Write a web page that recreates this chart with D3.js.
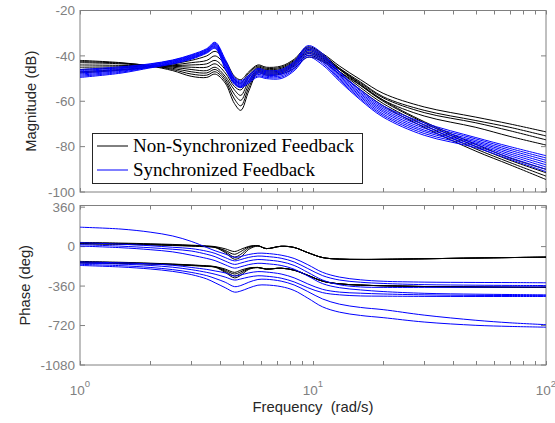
<!DOCTYPE html>
<html>
<head>
<meta charset="utf-8">
<script src="https://cdn.jsdelivr.net/npm/d3@7"></script>
<style>
  body { margin: 0; background: #fff; }
  svg { display: block; }
</style>
</head>
<body>
<div id="chart"></div>
<script>
const freq = [1, 1.5, 2, 2.5, 3, 3.5, 3.8, 4.2, 4.6, 4.9, 5.3, 5.8, 6.3, 7.3, 8.3, 9.5, 11, 13, 16, 20, 30, 50, 70, 100];

// Magnitude (dB), non-synchronized feedback (black)
const magNonSync = [
  [-47.5, -46.3, -45.0, -43.5, -42.0, -40.0, -38.0, -42.0, -49.0, -50.5, -47.0, -44.0, -45.0, -44.5, -41.5, -36.0, -39.0, -44.5, -50.5, -56.5, -62.5, -67.0, -70.0, -73.5],
  [-47.0, -46.0, -45.0, -44.0, -43.0, -42.0, -40.0, -44.0, -50.5, -52.0, -47.5, -44.5, -45.5, -45.0, -42.0, -36.6, -39.5, -45.5, -52.5, -59.5, -69.0, -79.0, -85.0, -90.0],
  [-46.0, -45.3, -44.7, -44.3, -44.0, -43.5, -42.0, -46.0, -52.0, -53.8, -48.5, -45.0, -46.0, -45.5, -42.5, -37.2, -40.0, -45.5, -51.5, -58.0, -64.0, -68.5, -71.5, -75.3],
  [-45.0, -44.8, -44.6, -44.6, -45.0, -45.0, -43.5, -47.5, -53.5, -55.0, -49.5, -45.5, -46.5, -46.0, -43.0, -37.8, -40.5, -46.0, -53.0, -60.0, -69.5, -80.0, -86.0, -91.5],
  [-44.0, -44.2, -44.5, -45.0, -46.0, -46.5, -45.0, -49.0, -55.0, -57.4, -51.0, -46.0, -47.0, -46.5, -43.5, -38.4, -41.0, -46.0, -52.0, -58.5, -65.0, -69.5, -73.0, -77.0],
  [-43.0, -43.5, -44.5, -45.5, -47.0, -47.5, -46.0, -50.0, -57.0, -59.6, -52.5, -46.5, -47.5, -47.0, -44.0, -39.0, -41.5, -47.0, -54.0, -61.0, -70.5, -81.0, -87.0, -93.0],
  [-42.5, -43.2, -44.3, -46.0, -48.0, -48.5, -47.0, -51.0, -59.0, -62.0, -54.0, -47.0, -48.0, -47.5, -44.5, -39.8, -42.0, -47.0, -53.0, -59.5, -66.5, -71.5, -75.5, -79.3],
  [-42.0, -43.0, -44.5, -46.5, -49.0, -49.5, -48.0, -52.0, -61.0, -64.0, -55.5, -47.5, -48.5, -48.0, -45.5, -40.6, -42.5, -48.0, -55.0, -62.0, -71.5, -82.0, -88.0, -94.5]
];

// Magnitude (dB), synchronized feedback (blue)
const magSync = [
  [-46.0, -44.8, -43.5, -41.8, -39.5, -36.8, -34.0, -41.5, -49.5, -51.0, -48.5, -45.5, -46.5, -46.0, -42.5, -35.5, -39.0, -47.0, -55.0, -62.0, -69.5, -76.0, -80.0, -84.0],
  [-46.5, -45.2, -43.7, -42.0, -39.8, -37.1, -34.4, -42.2, -50.0, -51.5, -49.0, -46.0, -47.0, -46.6, -43.0, -36.3, -39.8, -47.5, -55.6, -62.7, -70.3, -76.6, -80.8, -85.0],
  [-47.0, -45.6, -44.0, -42.3, -40.1, -37.4, -34.8, -42.7, -50.4, -52.0, -49.5, -46.6, -47.5, -47.1, -43.6, -37.0, -40.4, -48.2, -56.3, -63.4, -71.1, -77.3, -81.6, -86.0],
  [-47.5, -46.0, -44.2, -42.5, -40.4, -37.7, -35.1, -43.3, -50.9, -52.4, -50.0, -47.1, -48.0, -47.7, -44.2, -37.6, -41.1, -48.8, -56.9, -64.1, -71.9, -77.9, -82.4, -87.0],
  [-48.0, -46.4, -44.5, -42.8, -40.7, -38.0, -35.5, -43.9, -51.3, -52.8, -50.5, -47.6, -48.5, -48.2, -44.8, -38.4, -41.8, -49.4, -57.6, -64.8, -72.7, -78.5, -83.2, -88.0],
  [-48.5, -46.8, -44.8, -43.0, -41.0, -38.2, -35.9, -44.6, -51.7, -53.2, -51.0, -48.2, -49.0, -48.8, -45.4, -39.1, -42.5, -50.0, -58.2, -65.6, -73.4, -79.1, -84.0, -89.0],
  [-49.0, -47.2, -45.0, -43.3, -41.2, -38.5, -36.3, -45.2, -52.1, -53.6, -51.5, -48.8, -49.5, -49.4, -46.0, -39.8, -43.2, -50.6, -58.9, -66.3, -74.2, -79.8, -84.8, -90.0],
  [-49.5, -47.6, -45.3, -43.6, -41.5, -38.8, -36.7, -45.8, -52.5, -54.0, -52.0, -49.3, -50.0, -50.0, -46.6, -40.5, -44.0, -51.2, -59.5, -67.0, -75.0, -80.5, -85.6, -91.0]
];

// Phase (deg), non-synchronized feedback (black)
const phaseNonSync = [
  [38, 32, 26, 20, 13, 6, 0, -20, -45, -25, 2, 9, -18, 3, -8, -55, -100, -114, -117, -116, -111, -104, -100, -96],
  [33, 28, 22, 16, 10, 3, -4, -35, -70, -45, -3, 8, -18, 3, -8, -55, -100, -114, -117, -116, -111, -104, -100, -96],
  [28, 24, 18, 13, 7, 1, -6, -45, -95, -70, -12, 6, -18, 3, -8, -55, -100, -114, -117, -116, -111, -104, -100, -96],
  [24, 20, 15, 10, 4, -2, -8, -55, -115, -95, -25, 5, -18, 3, -8, -55, -100, -114, -117, -116, -111, -104, -100, -96],
  [-135, -143, -151, -159, -167, -175, -182, -205, -235, -215, -195, -190, -205, -197, -215, -262, -315, -340, -351, -357, -364, -369, -371, -372],
  [-140, -147, -154, -161, -169, -177, -184, -215, -250, -230, -198, -190, -205, -197, -215, -262, -315, -340, -351, -357, -364, -369, -371, -372],
  [-145, -151, -157, -164, -171, -179, -186, -225, -268, -245, -202, -191, -205, -197, -215, -262, -315, -340, -351, -357, -364, -369, -371, -372],
  [-150, -155, -160, -166, -173, -181, -188, -235, -285, -262, -208, -192, -205, -197, -215, -262, -315, -340, -351, -357, -364, -369, -371, -372]
];

// Phase (deg), synchronized feedback (blue)
const phaseSync = [
  [177, 160, 132, 97, 48, -8, -38, -68, -98, -90, -72, -60, -62, -78, -108, -165, -235, -278, -303, -316, -324, -327, -328, -330],
  [36, 22, 8, -6, -18, -42, -62, -100, -130, -118, -98, -86, -90, -106, -140, -200, -265, -305, -325, -336, -347, -352, -354, -355],
  [18, 4, -10, -24, -40, -70, -92, -132, -162, -150, -130, -118, -122, -138, -172, -235, -305, -348, -368, -372, -372, -370, -369, -368],
  [5, -10, -28, -48, -78, -108, -128, -166, -196, -184, -164, -152, -156, -172, -206, -268, -338, -375, -395, -410, -426, -434, -437, -440],
  [-140, -148, -158, -170, -190, -208, -222, -240, -268, -258, -240, -228, -232, -250, -285, -340, -390, -415, -425, -432, -440, -445, -446, -447],
  [-150, -160, -172, -188, -210, -235, -252, -278, -305, -295, -278, -266, -270, -288, -322, -375, -420, -440, -450, -452, -454, -455, -455, -455],
  [-162, -174, -190, -210, -235, -265, -290, -325, -365, -355, -325, -300, -298, -315, -350, -410, -478, -525, -555, -575, -625, -672, -695, -712],
  [-172, -186, -204, -226, -255, -295, -330, -375, -415, -405, -378, -352, -350, -365, -400, -470, -550, -598, -628, -648, -688, -718, -728, -735]
];

const magTicks = [-100, -80, -60, -40, -20];
const phaseTicks = [-1080, -720, -360, 0, 360];
const freqTicks = [1, 10, 100];
const legendLabels = ["Non-Synchronized Feedback", "Synchronized Feedback"];

const width = 555;
const height = 423;
const left = 80, right = 546;
const magTop = 10.5, magBottom = 192;
const phTop = 205.5, phBottom = 365;
const axisGray = "#808080";
const colors = ["#000000", "#0000ff"];

const svg = d3.select("#chart").append("svg")
  .attr("width", width).attr("height", height)
  .style("font-family", "'Liberation Sans', Arial, sans-serif");

const x = d3.scaleLog([1, 100], [left, right]);
const yMag = d3.scaleLinear([-100, -20], [magBottom, magTop]);
const yPh = d3.scaleLinear([-1080, 375], [phBottom, phTop]);

const minorTicks = [];
for (let d = 1; d < 100; d *= 10) for (let k = 2; k <= 9; k++) minorTicks.push(d * k);

function drawAxes(y, top, bottom, yTicks, id) {
  svg.append("clipPath").attr("id", id)
    .append("rect").attr("x", left).attr("y", top)
    .attr("width", right - left).attr("height", bottom - top);

  const g = svg.append("g").attr("class", "frame");
  // x ticks (top and bottom, inward)
  const xt = freqTicks.concat(minorTicks);
  xt.forEach((f) => {
    const px = Math.round(x(f)) + 0.5;
    g.append("line").attr("x1", px).attr("x2", px).attr("y1", bottom).attr("y2", bottom - 4)
      .attr("stroke", axisGray);
    g.append("line").attr("x1", px).attr("x2", px).attr("y1", top).attr("y2", top + 4)
      .attr("stroke", axisGray);
  });
  // y ticks (left and right, inward) and labels
  yTicks.forEach((v) => {
    const py = y(v);
    g.append("line").attr("x1", left).attr("x2", left + 5).attr("y1", py).attr("y2", py)
      .attr("stroke", axisGray);
    g.append("line").attr("x1", right).attr("x2", right - 5).attr("y1", py).attr("y2", py)
      .attr("stroke", axisGray);
    g.append("text").attr("x", left - 5).attr("y", py).attr("dy", "0.35em")
      .attr("text-anchor", "end").attr("fill", axisGray)
      .style("font-size", "13.5px").text(v);
  });
  g.append("rect").attr("x", left).attr("y", top)
    .attr("width", right - left).attr("height", bottom - top)
    .attr("fill", "none").attr("stroke", axisGray);
}

function drawCurves(y, series, color, id) {
  const line = d3.line()
    .x((d, i) => x(freq[i]))
    .y((d) => y(d))
    .curve(d3.curveCatmullRom.alpha(0.5));
  svg.append("g").attr("clip-path", `url(#${id})`)
    .selectAll("path").data(series).join("path")
    .attr("d", line)
    .attr("fill", "none")
    .attr("stroke", color)
    .attr("stroke-width", 1);
}

drawAxes(yMag, magTop, magBottom, magTicks, "clipMag");
drawAxes(yPh, phTop, phBottom, phaseTicks, "clipPh");

drawCurves(yMag, magNonSync, colors[0], "clipMag");
drawCurves(yMag, magSync, colors[1], "clipMag");
drawCurves(yPh, phaseNonSync, colors[0], "clipPh");
drawCurves(yPh, phaseSync, colors[1], "clipPh");

// x tick labels 10^n
freqTicks.forEach((f) => {
  const t = svg.append("text").attr("x", x(f)).attr("y", 395)
    .attr("text-anchor", "middle").attr("fill", axisGray)
    .style("font-size", "13.5px");
  t.append("tspan").text("10");
  t.append("tspan").attr("dy", -8).style("font-size", "9.5px").text(Math.round(Math.log10(f)));
});

// axis labels
svg.append("text").attr("transform", `translate(36,${(magTop + magBottom) / 2}) rotate(-90)`)
  .attr("text-anchor", "middle").attr("fill", "#262626")
  .style("font-size", "14.8px").text("Magnitude (dB)");
svg.append("text").attr("transform", `translate(30,${(phTop + phBottom) / 2}) rotate(-90)`)
  .attr("text-anchor", "middle").attr("fill", "#262626")
  .style("font-size", "14.8px").text("Phase (deg)");
svg.append("text").attr("x", (left + right) / 2).attr("y", 412)
  .attr("text-anchor", "middle").attr("fill", "#262626")
  .style("font-size", "14.8px").style("white-space", "pre").text("Frequency  (rad/s)");

// legend
const lg = svg.append("g");
lg.append("rect").attr("x", 92.5).attr("y", 133.5).attr("width", 270).attr("height", 50)
  .attr("fill", "#fff").attr("stroke", "#262626");
legendLabels.forEach((name, i) => {
  const ly = 146 + i * 24;
  lg.append("line").attr("x1", 97).attr("x2", 128).attr("y1", ly).attr("y2", ly)
    .attr("stroke", colors[i]);
  lg.append("text").attr("x", 133).attr("y", ly).attr("dy", "0.33em")
    .style("font-family", "'Liberation Serif', 'Times New Roman', serif")
    .style("font-size", "19px").attr("fill", "#000").text(name);
});
</script>
</body>
</html>
